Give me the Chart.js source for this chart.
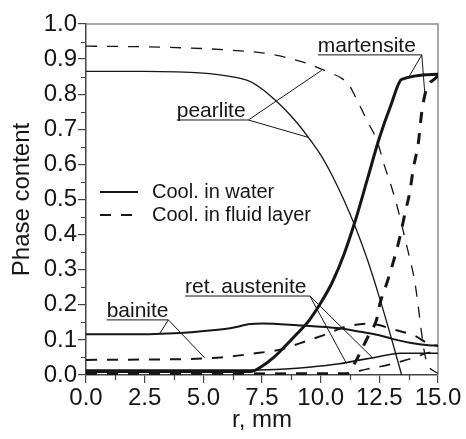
<!DOCTYPE html>
<html>
<head>
<meta charset="utf-8">
<script src="https://cdn.jsdelivr.net/npm/chart.js@4.4.1/dist/chart.umd.min.js"></script>
<style>
    html, body { margin: 0; padding: 0; background: #fff; }
    #phase-chart { display: block; }
</style>
</head>
<body>
<canvas id="phase-chart" width="466" height="439"></canvas>
<script>
    // radius (mm) and phase fraction for each curve
    const rPearliteWater = [0, 2.5, 5, 6, 7, 7.5, 8, 8.5, 9, 9.5, 10, 10.5, 11, 11.5, 12, 12.5, 13, 13.45];
    const pearliteWater = [0.865, 0.865, 0.86, 0.852, 0.836, 0.815, 0.787, 0.755, 0.718, 0.675, 0.627, 0.567, 0.497, 0.418, 0.327, 0.222, 0.108, 0];

    const rPearliteFluid = [0, 2.5, 5, 6, 7.5, 8.5, 9.5, 10.25, 10.9, 11.2, 11.5, 12, 12.4, 12.7, 13, 13.3, 13.5, 13.75, 14, 14.15, 14.3, 14.45, 14.6, 14.8, 15];
    const pearliteFluid = [0.937, 0.935, 0.93, 0.926, 0.918, 0.905, 0.886, 0.865, 0.845, 0.827, 0.79, 0.722, 0.668, 0.6, 0.54, 0.47, 0.415, 0.345, 0.27, 0.2, 0.12, 0.055, 0.025, 0.012, 0.005];

    const rMartensiteWater = [0, 7, 7.5, 8, 8.5, 9, 9.5, 10, 10.5, 11, 11.5, 12, 12.5, 13, 13.45, 15];
    const martensiteWater = [0.01, 0.01, 0.025, 0.05, 0.083, 0.118, 0.155, 0.205, 0.265, 0.345, 0.445, 0.56, 0.675, 0.77, 0.842, 0.857];

    const rMartensiteFluid = [0, 11.1, 11.5, 11.8, 12.1, 12.38, 12.53, 12.84, 13.12, 13.38, 13.59, 13.8, 13.95, 14.16, 14.3, 14.44, 14.6, 14.75, 15];
    const martensiteFluid = [0.003, 0.003, 0.04, 0.08, 0.12, 0.157, 0.204, 0.266, 0.328, 0.394, 0.46, 0.522, 0.589, 0.66, 0.745, 0.798, 0.83, 0.838, 0.852];

    const rBainiteWater = [0, 2.5, 3.5, 4.5, 5.5, 6.2, 7, 7.5, 9, 10.8, 11.7, 12.5, 13, 13.8, 14.6, 15];
    const bainiteWater = [0.116, 0.116, 0.118, 0.122, 0.128, 0.134, 0.145, 0.147, 0.142, 0.133, 0.123, 0.113, 0.104, 0.092, 0.085, 0.084];

    const rBainiteFluid = [0, 2.5, 5, 6.1, 7, 8.3, 9.1, 10.1, 11.1, 12.1, 13.1, 14, 14.5, 15];
    const bainiteFluid = [0.043, 0.044, 0.047, 0.052, 0.06, 0.073, 0.09, 0.113, 0.138, 0.146, 0.13, 0.112, 0.093, 0.082];

    const rAusteniteWater = [0, 7, 8.5, 9.5, 10.8, 11.7, 12.3, 13.4, 15];
    const austeniteWater = [0.014, 0.014, 0.017, 0.022, 0.032, 0.043, 0.05, 0.062, 0.062];

    const rAusteniteFluid = [0, 11, 12, 13, 14, 14.5, 15];
    const austeniteFluid = [0.004, 0.005, 0.017, 0.031, 0.05, 0.062, 0.07];

    const xTicks = [0, 2.5, 5, 7.5, 10, 12.5, 15];
    const yTicks = [0, 0.1, 0.2, 0.3, 0.4, 0.5, 0.6, 0.7, 0.8, 0.9, 1.0];
    const legendLabels = ['Cool. in water', 'Cool. in fluid layer'];

    const FONT = '"Liberation Sans", Arial, sans-serif';
    const INK = '#161616';
    const DASH = [11, 10];

    function pts(xs, ys) {
        return xs.map((x, i) => ({ x: x, y: ys[i] }));
    }

    function series(xs, ys, width, dashed) {
        return {
            data: pts(xs, ys),
            borderColor: INK,
            borderWidth: width,
            borderDash: dashed ? DASH : [],
            pointRadius: 0,
            cubicInterpolationMode: 'monotone',
            fill: false
        };
    }

    // callout labels: underlined text with thin leader lines to the curves
    const callouts = [
        { text: 'martensite', x: 9.88, y: 0.912, endX: 14.31, to: [[13.73, 0.846], [14.44, 0.8]] },
        { text: 'pearlite', x: 3.865, y: 0.7265, endX: 6.92, to: [[10.04, 0.868], [9.47, 0.677]] },
        { text: 'bainite', x: 0.88, y: 0.157, endX: 3.51, to: [[3.15, 0.119], [5.07, 0.048]] },
        { text: 'ret. austenite', x: 4.22, y: 0.225, endX: 9.54, to: [[11.1, 0.033], [12.24, 0.047]] }
    ];

    const decorPlugin = {
        id: 'decor',
        beforeDatasetsDraw(chart) {
            const { ctx, chartArea: a } = chart;
            ctx.save();
            // frame on top and right
            ctx.strokeStyle = '#8a8a8a';
            ctx.lineWidth = 1.5;
            ctx.beginPath();
            ctx.moveTo(a.left, a.top);
            ctx.lineTo(a.right, a.top);
            ctx.lineTo(a.right, a.bottom);
            ctx.stroke();

            // minor ticks halfway between the labelled ones
            const xs = chart.scales.x, ys = chart.scales.y;
            ctx.strokeStyle = '#444';
            ctx.lineWidth = 1.2;
            ctx.beginPath();
            for (let i = 0; i < yTicks.length - 1; i++) {
                const py = Math.round(ys.getPixelForValue((yTicks[i] + yTicks[i + 1]) / 2)) + 0.5;
                ctx.moveTo(a.left - 5, py);
                ctx.lineTo(a.left, py);
            }
            for (let i = 0; i < xTicks.length - 1; i++) {
                const px = Math.round(xs.getPixelForValue((xTicks[i] + xTicks[i + 1]) / 2)) + 0.5;
                ctx.moveTo(px, a.bottom);
                ctx.lineTo(px, a.bottom + 5);
            }
            ctx.stroke();
            ctx.restore();
        },
        afterDatasetsDraw(chart) {
            const { ctx, chartArea: a } = chart;
            const xs = chart.scales.x, ys = chart.scales.y;
            ctx.save();
            ctx.fillStyle = INK;
            ctx.strokeStyle = INK;
            ctx.font = '21px ' + FONT;
            ctx.textBaseline = 'alphabetic';
            ctx.textAlign = 'left';

            callouts.forEach(c => {
                const x0 = xs.getPixelForValue(c.x);
                const x1 = xs.getPixelForValue(c.endX);
                const y0 = ys.getPixelForValue(c.y);
                ctx.fillText(c.text, x0, y0 - 3);
                ctx.lineWidth = 1;
                ctx.beginPath();
                ctx.moveTo(x0, y0);
                ctx.lineTo(x1, y0);
                c.to.forEach(t => {
                    ctx.moveTo(x1, y0);
                    ctx.lineTo(xs.getPixelForValue(t[0]), ys.getPixelForValue(t[1]));
                });
                ctx.stroke();
            });

            // legend block
            ctx.font = '20px ' + FONT;
            ctx.textBaseline = 'middle';
            const lx = a.left + 14, ly = a.top + 168;
            legendLabels.forEach((label, i) => {
                const y = ly + i * 23;
                ctx.lineWidth = 2;
                ctx.setLineDash(i === 0 ? [] : DASH);
                ctx.beginPath();
                ctx.moveTo(lx, y);
                ctx.lineTo(lx + 38, y);
                ctx.stroke();
                ctx.setLineDash([]);
                ctx.fillText(label, lx + 52, y);
            });
            ctx.restore();
        }
    };

    const ctx = document.getElementById('phase-chart').getContext('2d');

    new Chart(ctx, {
        type: 'line',
        data: {
            datasets: [
                series(rPearliteWater, pearliteWater, 1.3, false),
                series(rPearliteFluid, pearliteFluid, 1.3, true),
                series(rMartensiteWater, martensiteWater, 3, false),
                series(rMartensiteFluid, martensiteFluid, 3, true),
                series(rBainiteWater, bainiteWater, 2, false),
                series(rBainiteFluid, bainiteFluid, 2, true),
                series(rAusteniteWater, austeniteWater, 1.6, false),
                series(rAusteniteFluid, austeniteFluid, 1.6, true)
            ]
        },
        options: {
            responsive: false,
            animation: false,
            layout: { padding: { top: 24, right: 28, left: 0, bottom: 0 } },
            plugins: {
                legend: { display: false },
                tooltip: { enabled: false }
            },
            scales: {
                x: {
                    type: 'linear',
                    min: 0,
                    max: 15,
                    afterBuildTicks: s => { s.ticks = xTicks.map(v => ({ value: v })); },
                    afterFit: s => { s.height = 64; },
                    ticks: {
                        autoSkip: false,
                        maxRotation: 0,
                        padding: 1,
                        color: INK,
                        font: { family: FONT, size: 24 },
                        callback: v => v.toFixed(1)
                    },
                    grid: { drawOnChartArea: false, tickLength: 8, color: '#444', lineWidth: 1.2 },
                    border: { color: '#444', width: 1.5 },
                    title: {
                        display: true,
                        text: 'r, mm',
                        color: INK,
                        font: { family: FONT, size: 24 },
                        padding: { top: 0, bottom: 4 }
                    }
                },
                y: {
                    min: 0,
                    max: 1,
                    afterBuildTicks: s => { s.ticks = yTicks.map(v => ({ value: v })); },
                    afterFit: s => { s.width = 86; },
                    ticks: {
                        padding: 1,
                        color: INK,
                        font: { family: FONT, size: 24 },
                        callback: v => v.toFixed(1)
                    },
                    grid: { drawOnChartArea: false, tickLength: 8, color: '#444', lineWidth: 1.2 },
                    border: { color: '#444', width: 1.5 },
                    title: {
                        display: true,
                        text: 'Phase content',
                        color: INK,
                        font: { family: FONT, size: 24 },
                        padding: { top: 8, bottom: 0 }
                    }
                }
            }
        },
        plugins: [decorPlugin]
    });
</script>
</body>
</html>
